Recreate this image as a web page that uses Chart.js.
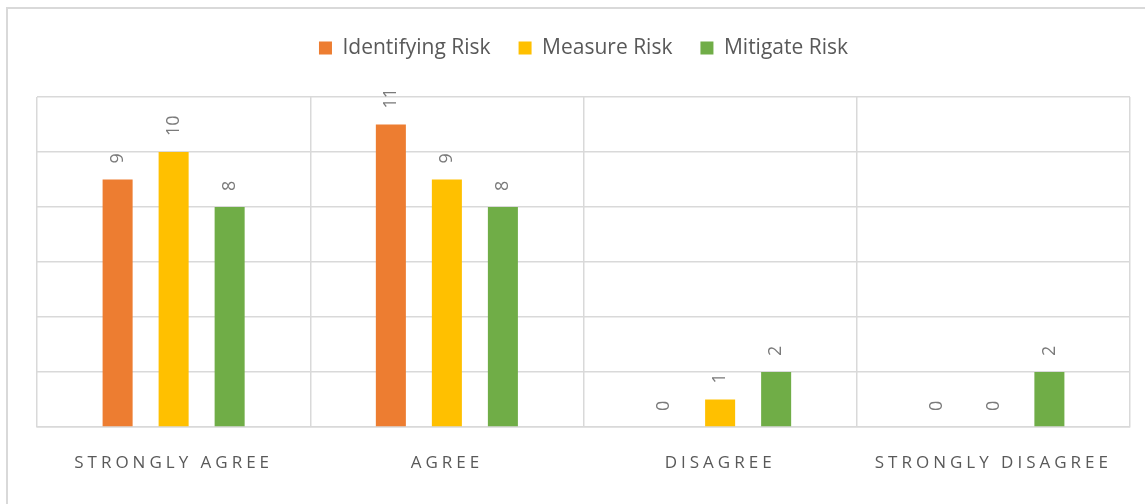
<!DOCTYPE html>
<html>
<head>
<meta charset="utf-8">
<script src="https://cdn.jsdelivr.net/npm/chart.js@4"></script>
<style>
  html, body { margin: 0; padding: 0; background: #fff; overflow: hidden; }
  #frame { position: absolute; left: 6px; top: 7px; width: 1200px; height: 600px; border: 2px solid #d9d9d9; }
  #wrap { position: absolute; left: 0; top: 0; width: 1145px; height: 504px; }
</style>
</head>
<body>
<div id="frame"></div>
<div id="wrap"><canvas id="chart"></canvas></div>
<script>
// Data
const categories = ['STRONGLY AGREE', 'AGREE', 'DISAGREE', 'STRONGLY DISAGREE'];
const identifyingRisk = [9, 11, 0, 0];
const measureRisk = [10, 9, 1, 0];
const mitigateRisk = [8, 8, 2, 2];
const yMin = 0;
const yMax = 12;
const yStep = 2;

const gridColor = '#d9d9d9';
const textColor = '#595959';

// Legend height fixed so the plot starts where the reference does
const legendFitPlugin = {
    id: 'legendFit',
    beforeInit(chart) {
        const legend = chart.legend;
        const origFit = legend.fit;
        legend.fit = function() {
            origFit.call(this);
            this.height = 87.5;
        };
    }
};

// Rotated value labels above each bar
const valueLabelsPlugin = {
    id: 'valueLabels',
    afterDatasetsDraw(chart) {
        const ctx = chart.ctx;
        ctx.save();
        ctx.font = '18px "Open Sans"';
        ctx.fillStyle = '#7a7a7a';
        ctx.textAlign = 'left';
        ctx.textBaseline = 'middle';
        chart.data.datasets.forEach((ds, i) => {
            const meta = chart.getDatasetMeta(i);
            meta.data.forEach((bar, j) => {
                ctx.save();
                ctx.translate(bar.x, bar.y - 16);
                ctx.rotate(-Math.PI / 2);
                ctx.fillText(String(ds.data[j]), 0, 0);
                ctx.restore();
            });
        });
        ctx.restore();
    }
};

// Category labels with letter spacing
const spacedTicksPlugin = {
    id: 'spacedTicks',
    afterDraw(chart) {
        const ctx = chart.ctx;
        const xScale = chart.scales.x;
        const spacing = 4;
        ctx.save();
        ctx.font = '17px "Open Sans"';
        ctx.fillStyle = textColor;
        ctx.textAlign = 'left';
        ctx.textBaseline = 'middle';
        categories.forEach((label, i) => {
            const chars = label.split('');
            let total = 0;
            chars.forEach(c => { total += ctx.measureText(c).width + spacing; });
            let x = xScale.getPixelForTick(i) - total / 2;
            chars.forEach(c => {
                ctx.fillText(c, x, 463);
                x += ctx.measureText(c).width + spacing;
            });
        });
        ctx.restore();
    }
};

const ctx = document.getElementById('chart').getContext('2d');
const chart = new Chart(ctx, {
    type: 'bar',
    data: {
        labels: categories,
        datasets: [
            { label: 'Identifying Risk', data: identifyingRisk, backgroundColor: '#ED7D31', borderWidth: 0 },
            { label: 'Measure Risk', data: measureRisk, backgroundColor: '#FFC000', borderWidth: 0 },
            { label: 'Mitigate Risk', data: mitigateRisk, backgroundColor: '#70AD47', borderWidth: 0 }
        ]
    },
    options: {
        responsive: true,
        maintainAspectRatio: false,
        animation: false,
        categoryPercentage: 0.615,
        barPercentage: 0.536,
        layout: { padding: { top: 9.5, left: 37, right: 15, bottom: 0 } },
        plugins: {
            legend: {
                position: 'top',
                labels: {
                    boxWidth: 13,
                    boxHeight: 13,
                    padding: 28,
                    color: textColor,
                    font: { family: 'Open Sans', size: 21 }
                }
            },
            tooltip: { enabled: false }
        },
        scales: {
            x: {
                grid: { color: gridColor, lineWidth: 1.5, drawTicks: false, offset: true },
                border: { display: true, color: gridColor, width: 1.5 },
                ticks: { display: false },
                afterFit: s => { s.height = 77; }
            },
            y: {
                min: yMin,
                max: yMax,
                ticks: { display: false, stepSize: yStep },
                grid: { color: gridColor, lineWidth: 1.5, drawTicks: false },
                border: { display: false },
                afterFit: s => { s.width = 0; }
            }
        }
    },
    plugins: [legendFitPlugin, valueLabelsPlugin, spacedTicksPlugin]
});
</script>
</body>
</html>
